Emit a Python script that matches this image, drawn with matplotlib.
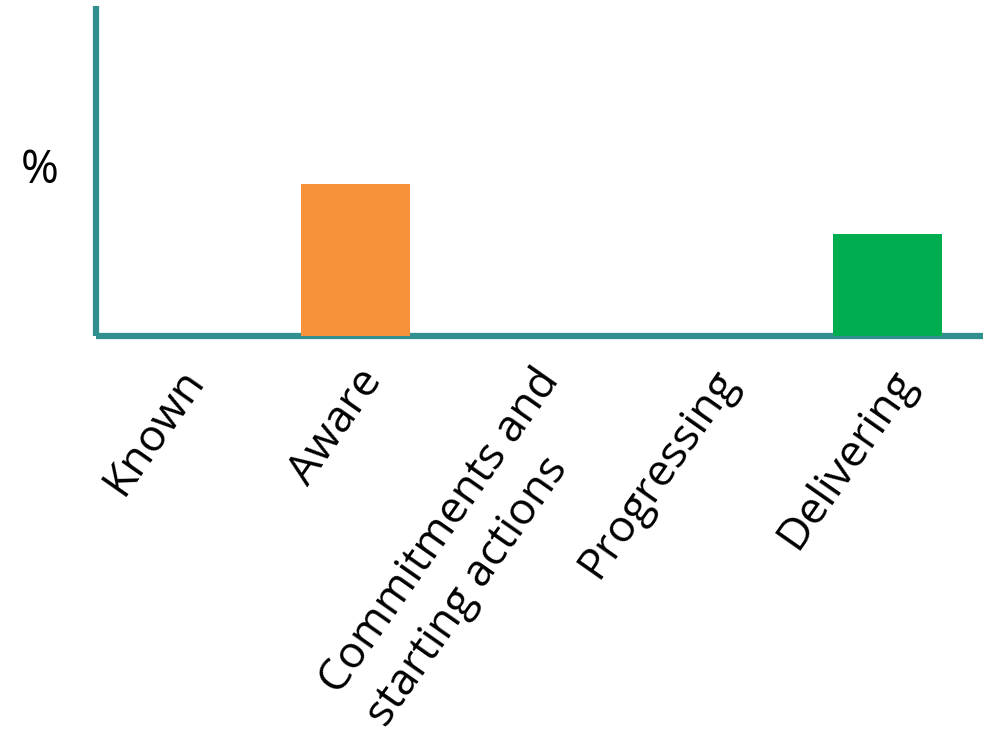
import matplotlib.pyplot as plt
import numpy as np

# chart data
categories = ["Known", "Aware", "Commitments and\nstarting actions", "Progressing", "Delivering"]
values = [0, 46, 0, 0, 31]
bar_colors = ["#F7923A", "#F7923A", "#F7923A", "#F7923A", "#00AE4F"]


def main():
    plt.rcParams["font.family"] = ["Open Sans", "DejaVu Sans"]
    fig = plt.figure(figsize=(9.92, 7.43), dpi=100)
    ax = fig.add_axes([0.0968, 0.548, 0.894, 0.444])

    x = np.arange(len(categories))
    ax.bar(x, values, width=0.615, color=bar_colors, zorder=3)

    ax.set_xlim(-0.46, 4.535)
    ax.set_ylim(0, 100)

    spine_color = "#31908F"
    for side in ["top", "right"]:
        ax.spines[side].set_visible(False)
    for side in ["left", "bottom"]:
        ax.spines[side].set_color(spine_color)
        ax.spines[side].set_linewidth(4.5)
        ax.spines[side].set_capstyle("butt")

    ax.set_yticks([])
    ax.set_xticks(x)
    ax.set_xticklabels(categories, rotation=55, ha="right", va="top",
                       rotation_mode="anchor", multialignment="left",
                       linespacing=1.4, fontsize=32)
    ax.tick_params(axis="x", length=0, pad=18)

    fig.text(0.04, 0.77, "%", fontsize=33, ha="center", va="center")

    fig.savefig("out.png", dpi=100)


if __name__ == "__main__":
    main()
